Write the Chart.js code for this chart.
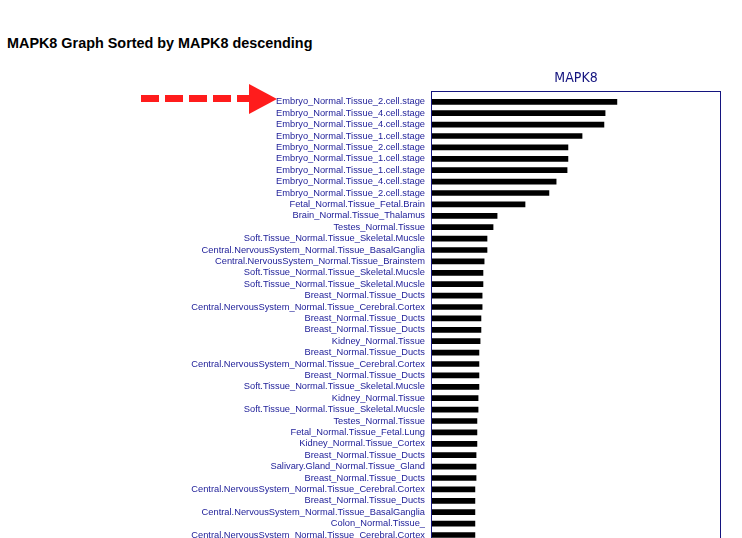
<!DOCTYPE html>
<html>
<head>
<meta charset="utf-8">
<title>MAPK8 Graph Sorted by MAPK8 descending</title>
<script src="https://cdn.jsdelivr.net/npm/chart.js@4/dist/chart.umd.min.js"></script>
<style>
  html, body { margin: 0; padding: 0; background: #ffffff; overflow: hidden; width: 742px; height: 538px; }
  #wrap { position: relative; width: 742px; height: 538px; overflow: hidden; }
  #heading {
    position: absolute; left: 7px; top: 36px;
    font: bold 14.4px "Liberation Sans", Arial, sans-serif; line-height: 14.4px;
    color: #000000; white-space: nowrap;
  }
  #chartBox { position: absolute; left: 0; top: 0; width: 742px; height: 560px; }
  #pointer { position: absolute; left: 0; top: 0; }
</style>
</head>
<body>
<div id="wrap">
  <div id="heading">MAPK8 Graph Sorted by MAPK8 descending</div>
  <div id="chartBox"><canvas id="chart" width="742" height="560"></canvas></div>
  <svg id="pointer" width="300" height="130" xmlns="http://www.w3.org/2000/svg">
    <line x1="141" y1="98.5" x2="250" y2="98.5" stroke="#ff1c1c" stroke-width="7" stroke-dasharray="18 6"/>
    <polygon points="249,84 277,99 249,114" fill="#ff1c1c"/>
  </svg>
</div>
<script>
// Samples, sorted by MAPK8 expression (highest first)
const samples = [
  "Embryo_Normal.Tissue_2.cell.stage",
  "Embryo_Normal.Tissue_4.cell.stage",
  "Embryo_Normal.Tissue_4.cell.stage",
  "Embryo_Normal.Tissue_1.cell.stage",
  "Embryo_Normal.Tissue_2.cell.stage",
  "Embryo_Normal.Tissue_1.cell.stage",
  "Embryo_Normal.Tissue_1.cell.stage",
  "Embryo_Normal.Tissue_4.cell.stage",
  "Embryo_Normal.Tissue_2.cell.stage",
  "Fetal_Normal.Tissue_Fetal.Brain",
  "Brain_Normal.Tissue_Thalamus",
  "Testes_Normal.Tissue",
  "Soft.Tissue_Normal.Tissue_Skeletal.Mucsle",
  "Central.NervousSystem_Normal.Tissue_BasalGanglia",
  "Central.NervousSystem_Normal.Tissue_Brainstem",
  "Soft.Tissue_Normal.Tissue_Skeletal.Mucsle",
  "Soft.Tissue_Normal.Tissue_Skeletal.Mucsle",
  "Breast_Normal.Tissue_Ducts",
  "Central.NervousSystem_Normal.Tissue_Cerebral.Cortex",
  "Breast_Normal.Tissue_Ducts",
  "Breast_Normal.Tissue_Ducts",
  "Kidney_Normal.Tissue",
  "Breast_Normal.Tissue_Ducts",
  "Central.NervousSystem_Normal.Tissue_Cerebral.Cortex",
  "Breast_Normal.Tissue_Ducts",
  "Soft.Tissue_Normal.Tissue_Skeletal.Mucsle",
  "Kidney_Normal.Tissue",
  "Soft.Tissue_Normal.Tissue_Skeletal.Mucsle",
  "Testes_Normal.Tissue",
  "Fetal_Normal.Tissue_Fetal.Lung",
  "Kidney_Normal.Tissue_Cortex",
  "Breast_Normal.Tissue_Ducts",
  "Salivary.Gland_Normal.Tissue_Gland",
  "Breast_Normal.Tissue_Ducts",
  "Central.NervousSystem_Normal.Tissue_Cerebral.Cortex",
  "Breast_Normal.Tissue_Ducts",
  "Central.NervousSystem_Normal.Tissue_BasalGanglia",
  "Colon_Normal.Tissue_",
  "Central.NervousSystem_Normal.Tissue_Cerebral.Cortex"
];

// MAPK8 expression per sample
const mapk8 = [
  6.42, 6.01, 5.97, 5.21, 4.72, 4.72, 4.69, 4.31, 4.06, 3.23,
  2.26, 2.12, 1.91, 1.91, 1.81, 1.77, 1.77, 1.74, 1.74, 1.70,
  1.70, 1.67, 1.63, 1.63, 1.63, 1.63, 1.60, 1.60, 1.56, 1.56,
  1.56, 1.53, 1.53, 1.53, 1.49, 1.49, 1.49, 1.49, 1.49
];

const geneName = "MAPK8";
const axisMin = 0;
const axisMax = 10;

const navy = "#14147f";
const labelBlue = "#22229a";

// Outline box around the plotting area
const frameBox = {
  id: "frameBox",
  afterDraw(chart) {
    const a = chart.chartArea;
    const ctx = chart.ctx;
    ctx.save();
    ctx.strokeStyle = navy;
    ctx.lineWidth = 1;
    const top = Math.round(a.top - 5) + 0.5;
    ctx.strokeRect(a.left - 0.5, top, a.right - a.left + 1, a.bottom + 6 - top);
    ctx.restore();
  }
};

new Chart(document.getElementById("chart"), {
  type: "bar",
  data: {
    labels: samples,
    datasets: [{
      label: geneName,
      data: mapk8,
      backgroundColor: "#000000",
      borderWidth: 0,
      barThickness: 5
    }]
  },
  options: {
    indexAxis: "y",
    responsive: false,
    animation: false,
    devicePixelRatio: 1,
    layout: { padding: { top: 66.1, right: 22, bottom: 19.3, left: 0 } },
    plugins: {
      legend: { display: false },
      tooltip: { enabled: false },
      title: { display: false }
    },
    scales: {
      x: {
        position: "top",
        min: axisMin,
        max: axisMax,
        grid: { display: false, drawTicks: false },
        border: { display: false },
        ticks: { display: false },
        title: {
          display: true,
          text: geneName,
          color: navy,
          font: { family: "'Liberation Sans Narrow', 'DejaVu Sans Condensed', 'Liberation Sans', sans-serif", size: 14 },
          padding: { top: 4.2, bottom: 0 }
        },
        afterFit(scale) { scale.height = 30; }
      },
      y: {
        grid: { display: false, drawTicks: false },
        border: { display: false },
        ticks: {
          autoSkip: false,
          color: labelBlue,
          padding: 7,
          font: { family: "'Liberation Sans', Arial, sans-serif", size: 9.3 }
        },
        afterFit(scale) { scale.width = 432; }
      }
    }
  },
  plugins: [frameBox]
});
</script>
</body>
</html>
